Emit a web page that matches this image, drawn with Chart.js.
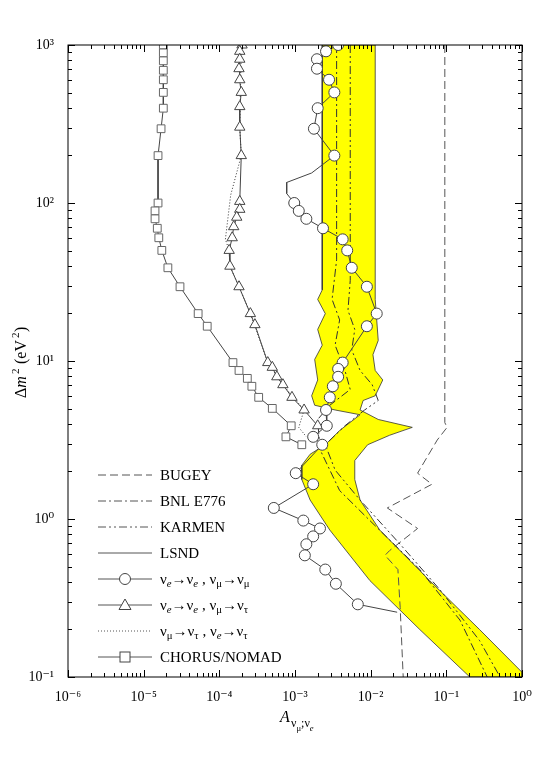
<!DOCTYPE html>
<html>
<head>
<meta charset="utf-8">
<script src="https://cdn.jsdelivr.net/npm/chart.js@4.4.0/dist/chart.umd.min.js"></script>
<style>
body { margin: 0; background: #fff; }
#wrap { width: 544px; height: 775px; }
</style>
</head>
<body>
<div id="wrap"><canvas id="myChart"></canvas></div>
<script>
// all values as [log10 A, log10 dm2]
const lsndBand = [
	[-2.64, 3.0], [-2.64, 1.45], [-2.70, 1.39], [-2.60, 1.30], [-2.70, 1.20], [-2.64, 1.10],
	[-2.74, 1.01], [-2.70, 0.88], [-2.78, 0.78], [-2.74, 0.72], [-2.47, 0.69], [-2.14, 0.66],
	[-2.41, 0.56], [-2.60, 0.47], [-2.80, 0.41], [-2.91, 0.34], [-2.91, 0.25], [-2.80, 0.12],
	[-2.54, -0.07], [-2.01, -0.39], [-1.35, -0.70], [-0.69, -1.0], [0.0, -1.0], [0.0, -0.97],
	[-0.56, -0.70], [-1.22, -0.39], [-1.88, -0.07], [-2.14, 0.12], [-2.21, 0.25], [-2.21, 0.37],
	[-2.04, 0.47], [-1.75, 0.53], [-1.45, 0.58], [-1.90, 0.63], [-2.14, 0.69], [-2.10, 0.75],
	[-1.94, 0.78], [-1.84, 0.88], [-1.94, 0.94], [-1.97, 1.04], [-1.90, 1.13], [-1.94, 1.39],
	[-1.94, 3.0], [-2.64, 3.0]
]
const bugey = [
	[-1.02, 3.0], [-1.02, 0.61], [-0.99, 0.58], [-1.12, 0.50], [-1.38, 0.29], [-1.19, 0.22],
	[-1.78, 0.07], [-1.38, -0.06], [-1.75, -0.20], [-1.81, -0.23], [-1.64, -0.32], [-1.61, -0.56],
	[-1.57, -1.0]
]
const bnl = [
	[-2.45, 3.0], [-2.45, 1.64], [-2.51, 1.39], [-2.41, 1.26], [-2.47, 1.10], [-2.34, 0.94],
	[-2.27, 0.82], [-2.54, 0.72], [-2.70, 0.63], [-2.67, 0.44], [-2.41, 0.18], [-2.01, -0.01],
	[-1.35, -0.32], [-0.82, -0.64], [-0.46, -1.0]
]
const karmen = [
	[-2.27, 3.0], [-2.27, 1.51], [-2.30, 1.32], [-2.21, 1.20], [-2.25, 1.07], [-2.14, 0.94],
	[-1.98, 0.85], [-1.90, 0.75], [-2.08, 0.69], [-2.34, 0.59], [-2.60, 0.47], [-2.47, 0.31],
	[-2.14, 0.12], [-1.61, -0.16], [-1.08, -0.45], [-0.56, -0.77], [-0.29, -1.0]
]
// third value: 1 = marker, 0 = bend of the line only
const circles = [
	[-2.43, 3.0, 1], [-2.59, 2.96, 1], [-2.71, 2.91, 1], [-2.71, 2.85, 1], [-2.55, 2.78, 1],
	[-2.48, 2.70, 1], [-2.70, 2.60, 1], [-2.75, 2.47, 1], [-2.48, 2.30, 1], [-2.78, 2.19, 0],
	[-3.11, 2.13, 0], [-3.11, 2.06, 0], [-3.01, 2.0, 1], [-2.95, 1.95, 1], [-2.85, 1.90, 1],
	[-2.63, 1.84, 1], [-2.37, 1.77, 1], [-2.31, 1.70, 1], [-2.25, 1.59, 1], [-2.05, 1.47, 1],
	[-1.92, 1.30, 1], [-2.05, 1.22, 1], [-2.37, 0.99, 1], [-2.43, 0.95, 1], [-2.43, 0.90, 1],
	[-2.50, 0.84, 1], [-2.54, 0.77, 1], [-2.59, 0.69, 1], [-2.58, 0.59, 1], [-2.76, 0.52, 1],
	[-2.64, 0.47, 1], [-2.99, 0.29, 1], [-2.76, 0.22, 1], [-3.28, 0.07, 1], [-2.89, -0.01, 1],
	[-2.67, -0.06, 1], [-2.76, -0.11, 1], [-2.85, -0.16, 1], [-2.87, -0.23, 1], [-2.60, -0.32, 1],
	[-2.46, -0.41, 1], [-2.17, -0.54, 1], [-1.65, -0.59, 0]
]
const triangles = [
	[-3.70, 3.0], [-3.73, 2.96], [-3.73, 2.91], [-3.74, 2.85], [-3.73, 2.78], [-3.71, 2.70],
	[-3.73, 2.61], [-3.73, 2.48], [-3.71, 2.30], [-3.73, 2.01], [-3.73, 1.96], [-3.77, 1.91],
	[-3.81, 1.85], [-3.83, 1.78], [-3.87, 1.70], [-3.86, 1.60], [-3.74, 1.47], [-3.59, 1.30],
	[-3.53, 1.23], [-3.36, 0.99], [-3.30, 0.96], [-3.24, 0.90], [-3.16, 0.85], [-3.04, 0.77],
	[-2.88, 0.69], [-2.70, 0.59]
]
const dotted = [
	[-3.71, 3.0], [-3.73, 2.48], [-3.71, 2.30], [-3.85, 2.05], [-3.92, 1.77], [-3.87, 1.70],
	[-3.86, 1.60], [-3.74, 1.47], [-3.59, 1.30], [-3.36, 0.99], [-3.16, 0.85], [-2.88, 0.69],
	[-2.95, 0.58], [-2.85, 0.52]
]
const squares = [
	[-4.74, 3.0], [-4.74, 2.95], [-4.74, 2.90], [-4.74, 2.84], [-4.74, 2.78], [-4.74, 2.70],
	[-4.74, 2.60], [-4.77, 2.47], [-4.81, 2.30], [-4.81, 2.0], [-4.85, 1.95], [-4.85, 1.90],
	[-4.82, 1.84], [-4.80, 1.78], [-4.76, 1.70], [-4.68, 1.59], [-4.52, 1.47], [-4.28, 1.30],
	[-4.16, 1.22], [-3.82, 0.99], [-3.74, 0.94], [-3.63, 0.89], [-3.57, 0.84], [-3.48, 0.77],
	[-3.30, 0.70], [-3.05, 0.59], [-3.12, 0.52], [-2.91, 0.47]
]
const xTickLabels = ["10⁻⁶", "10⁻⁵", "10⁻⁴", "10⁻³", "10⁻²", "10⁻¹", "10⁰"]
const yTickLabels = ["10⁻¹", "10⁰", "10¹", "10²", "10³"]

const toXY = (arr) => arr.map(p => ({ x: 10 ** p[0], y: 10 ** p[1] }))
const SERIF = "'Liberation Serif', 'DejaVu Serif', serif"

function line(label, arr, dash, extra) {
	return Object.assign({
		label: label,
		data: toXY(arr),
		showLine: true,
		borderColor: "#555",
		borderWidth: 1,
		borderDash: dash,
		pointRadius: 0,
		fill: false,
		tension: 0
	}, extra || {})
}

// draw a run of [text, sub, italic] pieces
function drawRuns(ctx, runs, x, y, size) {
	for (const r of runs) {
		const s = r[1] ? size * 0.72 : size
		ctx.font = (r[2] ? "italic " : "") + s + "px " + SERIF
		ctx.fillText(r[0], x, y + (r[1] ? size * 0.3 : 0))
		x += ctx.measureText(r[0]).width
	}
	return x
}

const legendRows = [
	{ kind: "line", dash: [8, 4], runs: [["BUGEY"]] },
	{ kind: "line", dash: [8, 3, 2, 3], runs: [["BNL E776"]] },
	{ kind: "line", dash: [8, 3, 2, 3, 2, 3], runs: [["KARMEN"]] },
	{ kind: "line", dash: [], runs: [["LSND"]] },
	{ kind: "circle", dash: [], runs: [["ν"], ["e", 1, 1], ["→ν"], ["e", 1, 1], [" , ν"], ["μ", 1], ["→ν"], ["μ", 1]] },
	{ kind: "triangle", dash: [], runs: [["ν"], ["e", 1, 1], ["→ν"], ["e", 1, 1], [" , ν"], ["μ", 1], ["→ν"], ["τ", 1]] },
	{ kind: "line", dash: [1, 2], runs: [["ν"], ["μ", 1], ["→ν"], ["τ", 1], [" , ν"], ["e", 1, 1], ["→ν"], ["τ", 1]] },
	{ kind: "rect", dash: [], runs: [["CHORUS/NOMAD"]] }
]

const decorPlugin = {
	id: "decor",
	afterDraw(chart) {
		const ctx = chart.ctx
		const a = chart.chartArea
		const xs = chart.scales.x, ys = chart.scales.y
		ctx.save()
		ctx.strokeStyle = "#000"
		ctx.lineWidth = 1
		ctx.strokeRect(a.left, a.top, a.right - a.left, a.bottom - a.top)
		// inner ticks on all sides
		for (let e = -6; e < 0; e++) {
			for (let m = 1; m <= 10; m++) {
				const px = Math.round(xs.getPixelForValue(m * 10 ** e)) + 0.5
				const len = (m === 1 || m === 10) ? 7 : 4
				ctx.beginPath()
				ctx.moveTo(px, a.bottom); ctx.lineTo(px, a.bottom - len)
				ctx.moveTo(px, a.top); ctx.lineTo(px, a.top + len)
				ctx.stroke()
			}
		}
		for (let e = -1; e < 3; e++) {
			for (let m = 1; m <= 10; m++) {
				const py = Math.round(ys.getPixelForValue(m * 10 ** e)) + 0.5
				const len = (m === 1 || m === 10) ? 7 : 4
				ctx.beginPath()
				ctx.moveTo(a.left, py); ctx.lineTo(a.left + len, py)
				ctx.moveTo(a.right, py); ctx.lineTo(a.right - len, py)
				ctx.stroke()
			}
		}
		// axis titles
		ctx.fillStyle = "#000"
		ctx.textBaseline = "alphabetic"
		ctx.textAlign = "left"
		drawRuns(ctx, [["A", 0, 1]], 280, 722, 16)
		drawRuns(ctx, [["ν"], ["μ", 1], [";ν"], ["e", 1, 1]], 291, 727, 12)
		ctx.translate(26, 360)
		ctx.rotate(-Math.PI / 2)
		drawRuns(ctx, [["Δ"], ["m", 0, 1]], -38, 0, 16)
		ctx.font = "11px " + SERIF
		ctx.fillText("2", -38 + 24, -7)
		drawRuns(ctx, [[" (eV"]], -38 + 30, 0, 16)
		ctx.font = "11px " + SERIF
		ctx.fillText("2", -38 + 30 + 30, -7)
		drawRuns(ctx, [[")"]], -38 + 36 + 30, 0, 16)
		ctx.restore()
		// legend
		ctx.save()
		ctx.fillStyle = "#000"
		legendRows.forEach((r, i) => {
			const y = 475 + i * 26
			ctx.strokeStyle = "#555"
			ctx.lineWidth = 1
			ctx.setLineDash(r.dash)
			ctx.beginPath(); ctx.moveTo(98, y); ctx.lineTo(152, y); ctx.stroke()
			ctx.setLineDash([])
			ctx.fillStyle = "#fff"
			ctx.strokeStyle = "#444"
			if (r.kind === "circle") {
				ctx.beginPath(); ctx.arc(125, y, 5.5, 0, 2 * Math.PI); ctx.fill(); ctx.stroke()
			} else if (r.kind === "triangle") {
				ctx.beginPath(); ctx.moveTo(125, y - 6); ctx.lineTo(131, y + 4.5); ctx.lineTo(119, y + 4.5); ctx.closePath(); ctx.fill(); ctx.stroke()
			} else if (r.kind === "rect") {
				ctx.fillRect(120, y - 5, 10, 10); ctx.strokeRect(120, y - 5, 10, 10)
			}
			ctx.fillStyle = "#000"
			ctx.textBaseline = "middle"
			drawRuns(ctx, r.runs, 160, y + 1, 15)
		})
		ctx.restore()
	}
}

new Chart("myChart", {
	type: "scatter",
	data: {
		datasets: [
			line("BUGEY", bugey, [8, 4], { order: 2 }),
			line("BNL E776", bnl, [8, 3, 2, 3], { order: 2, borderColor: "#333" }),
			line("KARMEN", karmen, [8, 3, 2, 3, 2, 3], { order: 2, borderColor: "#333" }),
			line("LSND", lsndBand, [], { order: 10, borderColor: "#333", borderWidth: 0.8, backgroundColor: "#ffff00", fill: "shape" }),
			line("dotted", dotted, [1, 2], { order: 3, borderColor: "#333" }),
			line("circles", circles.map(p => p), [], {
				order: 1,
				borderColor: "#444",
				pointRadius: circles.map(p => p[2] ? 5.5 : 0),
				pointBackgroundColor: "#fff",
				pointBorderColor: "#444",
				pointBorderWidth: 1
			}),
			line("triangles", triangles, [], {
				order: 1,
				borderColor: "#444",
				pointStyle: "triangle",
				pointRadius: 6,
				pointBackgroundColor: "#fff",
				pointBorderColor: "#444",
				pointBorderWidth: 1
			}),
			line("squares", squares, [], {
				order: 1,
				borderColor: "#444",
				pointStyle: "rect",
				pointRadius: 5.5,
				pointBackgroundColor: "#fff",
				pointBorderColor: "#666",
				pointBorderWidth: 1
			})
		]
	},
	options: {
		responsive: true,
		maintainAspectRatio: false,
		animation: false,
		layout: { padding: { top: 45, right: 22, left: 0, bottom: 0 } },
		plugins: { legend: { display: false }, tooltip: { enabled: false } },
		scales: {
			x: {
				type: "logarithmic",
				min: 1e-6,
				max: 1,
				afterBuildTicks: (s) => { s.ticks = xTickLabels.map((t, i) => ({ value: 10 ** (i - 6) })) },
				afterFit: (s) => { s.height = 98 },
				ticks: {
					color: "#000",
					font: { family: SERIF, size: 14 },
					maxRotation: 0,
					autoSkip: false,
					padding: 4,
					callback: (v, i) => xTickLabels[i]
				},
				grid: { display: false },
				border: { display: false }
			},
			y: {
				type: "logarithmic",
				min: 0.1,
				max: 1000,
				afterBuildTicks: (s) => { s.ticks = yTickLabels.map((t, i) => ({ value: 10 ** (i - 1) })) },
				afterFit: (s) => { s.width = 68 },
				ticks: {
					color: "#000",
					font: { family: SERIF, size: 14 },
					autoSkip: false,
					padding: 6,
					callback: (v, i) => yTickLabels[i]
				},
				grid: { display: false },
				border: { display: false }
			}
		}
	},
	plugins: [decorPlugin]
})
</script>
</body>
</html>
